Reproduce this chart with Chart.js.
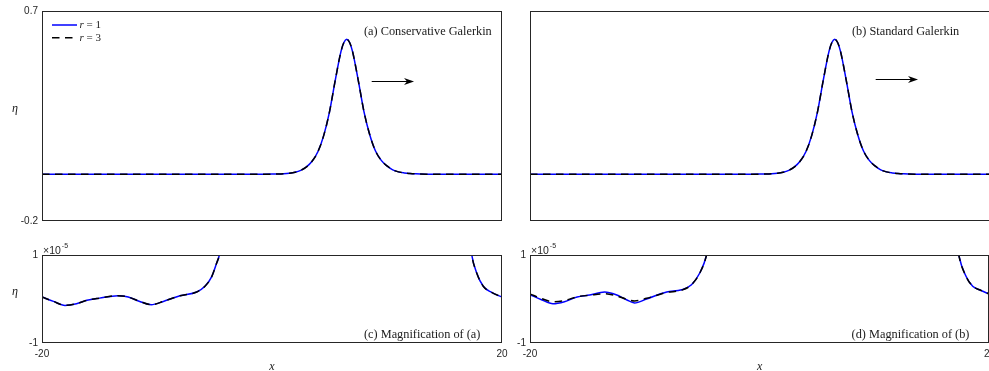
<!DOCTYPE html>
<html>
<head>
<meta charset="utf-8">
<script src="https://cdn.jsdelivr.net/npm/chart.js@4.4.1/dist/chart.umd.min.js"></script>
<style>
  html, body { margin: 0; padding: 0; background: #fff; overflow: hidden; }
  #fig { position: relative; width: 989px; height: 371px; overflow: hidden; background: #fff; }
  #fig canvas { position: absolute; }
</style>
</head>
<body>
<div id="fig">
  <canvas id="waveA" width="515" height="236" style="left:0;top:0"></canvas>
  <canvas id="waveB" width="500" height="236" style="left:500px;top:0"></canvas>
  <canvas id="magA" width="515" height="131" style="left:0;top:240px"></canvas>
  <canvas id="magB" width="500" height="131" style="left:500px;top:240px"></canvas>
</div>
<script>
// solitary wave profile eta(x), same for r = 1 and r = 3 at this scale
const waveX = [-20, -12, -6, -3, -1, 0, 0.5, 1.0, 1.5, 2.0, 2.5, 3.0, 3.5, 4.0, 4.5, 5.0, 5.5, 6.0, 6.25, 6.5,
               6.75, 7.0, 7.5, 8.0, 8.5, 9.0, 9.5, 10.0, 10.5, 11.0, 11.5, 12.0, 12.5, 13.5, 15, 17, 20];
const waveY = [0, 0, 0, 0, 0.0005, 0.0009, 0.0014, 0.0025, 0.0047, 0.0088, 0.017, 0.032, 0.057, 0.098, 0.167, 0.268, 0.403, 0.527, 0.565, 0.579,
               0.565, 0.527, 0.403, 0.268, 0.17, 0.1, 0.06, 0.036, 0.019, 0.0105, 0.0062, 0.0035, 0.002, 0.0008, 0.0002, 0, 0];

// magnified tails, in units of 1e-5 (conservative scheme, r = 1 and r = 3 overlap)
const magAX = [-20, -19.0, -18.0, -17.0, -16.1, -15.0, -13.4, -12.5, -11.5, -10.5, -9.45, -8.0, -6.55, -5.83, -5.24, -4.81, -4.58, -4.3, -3.8,
               16.8, 17.1, 17.37, 17.8, 18.37, 19.1, 20];
const magAY = [0.045, -0.055, -0.145, -0.107, -0.03, 0.02, 0.075, 0.045, -0.055, -0.13, -0.055, 0.075, 0.16, 0.29, 0.51, 0.82, 1.0, 1.5, 3,
               3, 1.6, 1.0, 0.59, 0.29, 0.15, 0.045];

// magnified tails, standard scheme
const magBX = [-20, -19.0, -18.0, -17.0, -15.9, -14.8, -13.5, -12.5, -11.6, -10.9, -9.85, -8.1, -6.8, -5.94, -5.22, -4.63, -4.3, -3.8,
               16.6, 17.0, 17.33, 17.97, 18.54, 19.13, 20];
const magB1Y = [0.098, -0.016, -0.107, -0.061, 0.045, 0.09, 0.16, 0.098, -0.016, -0.09, 0, 0.16, 0.21, 0.325, 0.59, 1.0, 1.5, 3,
                3, 1.6, 1.0, 0.51, 0.29, 0.21, 0.11];
const magB3Y = [0.114, 0.01, -0.061, -0.035, 0.05, 0.085, 0.12, 0.075, -0.005, -0.045, 0.015, 0.15, 0.2, 0.325, 0.59, 1.0, 1.5, 3,
                3, 1.6, 1.0, 0.51, 0.29, 0.21, 0.11];

const seriesNames = ['r = 1', 'r = 3'];
const panelNotes = ['(a) Conservative Galerkin', '(b) Standard Galerkin', '(c) Magnification of (a)', '(d) Magnification of (b)'];
const xTicks = [-20, 20];
const waveTicks = [-0.2, 0.7];
const magTicks = [-1, 1];
const magExponent = '-5';

const axisColor = '#262626';
const sansFont = '"Liberation Sans", Arial, sans-serif';
const serifFont = '"Liberation Serif", "Times New Roman", serif';

function toPoints(xs, ys) {
    return xs.map((x, i) => ({ x: x, y: ys[i] }));
}

function series(xs, ys1, ys3) {
    return [
        { label: seriesNames[0], data: toPoints(xs, ys1), borderColor: '#0000ff', borderWidth: 1.5,
          pointRadius: 0, fill: false, cubicInterpolationMode: 'monotone', clip: 0, order: 2 },
        { label: seriesNames[1], data: toPoints(xs, ys3), borderColor: '#000000', borderWidth: 1.5, borderDash: [7.5, 5.5],
          pointRadius: 0, fill: false, cubicInterpolationMode: 'monotone', clip: 0, order: 1 }
    ];
}

// box, notes, arrow, legend and axis symbols drawn on top of the curves
const panelDecor = {
    id: 'panelDecor',
    afterDraw(chart, args, o) {
        const ctx = chart.ctx;
        const a = chart.chartArea;
        const sx = chart.scales.x, sy = chart.scales.y;
        ctx.save();

        ctx.strokeStyle = axisColor;
        ctx.lineWidth = 1;
        ctx.setLineDash([]);
        ctx.strokeRect(Math.round(a.left) + 0.5, Math.round(a.top) + 0.5,
                       Math.round(a.right - a.left) - 1, Math.round(a.bottom - a.top) - 1);

        ctx.fillStyle = '#1a1a1a';
        ctx.font = '12.3px ' + serifFont;
        ctx.textAlign = 'left';
        ctx.textBaseline = 'middle';
        ctx.fillText(o.note.text, sx.getPixelForValue(o.note.x), sy.getPixelForValue(o.note.y));

        if (o.arrow) {
            const x0 = sx.getPixelForValue(o.arrow.x0);
            const x1 = sx.getPixelForValue(o.arrow.x1);
            const y = Math.round(sy.getPixelForValue(o.arrow.y)) + 0.5;
            ctx.strokeStyle = '#000';
            ctx.lineWidth = 1.2;
            ctx.beginPath();
            ctx.moveTo(x0, y);
            ctx.lineTo(x1 - 6, y);
            ctx.stroke();
            ctx.fillStyle = '#000';
            ctx.beginPath();
            ctx.moveTo(x1, y);
            ctx.lineTo(x1 - 10, y - 3.5);
            ctx.lineTo(x1 - 7, y);
            ctx.lineTo(x1 - 10, y + 3.5);
            ctx.closePath();
            ctx.fill();
        }

        if (o.legend) {
            chart.data.datasets.forEach((d, i) => {
                const y = a.top + 14 + i * 12.7;
                ctx.strokeStyle = d.borderColor;
                ctx.lineWidth = d.borderWidth;
                ctx.setLineDash(d.borderDash || []);
                ctx.beginPath();
                ctx.moveTo(a.left + 10, y);
                ctx.lineTo(a.left + 35, y);
                ctx.stroke();
                ctx.setLineDash([]);
                ctx.fillStyle = '#1a1a1a';
                ctx.textBaseline = 'middle';
                ctx.font = 'italic 11px ' + serifFont;
                const sym = d.label.slice(0, 1);
                ctx.fillText(sym, a.left + 37.5, y + 0.5);
                const w = ctx.measureText(sym).width;
                ctx.font = '11px ' + serifFont;
                ctx.fillText(d.label.slice(1), a.left + 37.5 + w, y + 0.5);
            });
        }

        ctx.fillStyle = '#1a1a1a';
        ctx.textAlign = 'center';
        ctx.textBaseline = 'alphabetic';
        if (o.eta) {
            ctx.font = 'italic 12px ' + serifFont;
            ctx.fillText('\u03b7', 15, (a.top + a.bottom) / 2 - 4);
        }
        if (o.xTitle) {
            ctx.font = 'italic 12px ' + serifFont;
            ctx.fillText('x', (a.left + a.right) / 2, a.bottom + 27);
        }
        if (o.exponent) {
            ctx.fillStyle = axisColor;
            ctx.textAlign = 'left';
            ctx.font = '10.5px ' + sansFont;
            ctx.fillText('\u00d710', a.left + 1, a.top - 1.5);
            const w = ctx.measureText('\u00d710').width;
            ctx.font = '7px ' + sansFont;
            ctx.fillText(magExponent, a.left + 2 + w, a.top - 7.5);
        }
        ctx.restore();
    }
};

function makePanel(id, p) {
    const tickFont = { family: sansFont, size: 10 };
    return new Chart(document.getElementById(id), {
        type: 'line',
        data: { datasets: p.datasets },
        options: {
            responsive: false,
            animation: false,
            devicePixelRatio: 1,
            events: [],
            layout: { padding: p.pad },
            plugins: {
                legend: { display: false },
                tooltip: { enabled: false },
                panelDecor: p.decor
            },
            scales: {
                x: {
                    type: 'linear', min: xTicks[0], max: xTicks[1],
                    grid: { display: false, drawTicks: false },
                    border: { display: false },
                    afterBuildTicks: s => { s.ticks = xTicks.map(v => ({ value: v })); },
                    ticks: { display: p.showX, padding: 5, color: axisColor, font: tickFont,
                             maxRotation: 0, autoSkip: false, callback: v => String(v) },
                    afterFit: s => { s.height = p.xH; }
                },
                y: {
                    type: 'linear', min: p.yTicks[0], max: p.yTicks[1],
                    grid: { display: false, drawTicks: false },
                    border: { display: false },
                    afterBuildTicks: s => { s.ticks = p.yTicks.map(v => ({ value: v })); },
                    ticks: { display: p.showY, padding: 4, color: axisColor, font: tickFont,
                             autoSkip: false, callback: v => String(v) },
                    afterFit: s => { s.width = p.yW; }
                }
            }
        },
        plugins: [panelDecor]
    });
}

makePanel('waveA', {
    datasets: series(waveX, waveY, waveY),
    pad: { left: 0, top: 11, right: 13, bottom: 0 }, xH: 15, yW: 42,
    yTicks: waveTicks, showX: false, showY: true,
    decor: { note: { text: panelNotes[0], x: 8, y: 0.609 }, arrow: { x0: 8.67, x1: 12.35, y: 0.401 },
             legend: true, eta: true, xTitle: false, exponent: false }
});

makePanel('waveB', {
    datasets: series(waveX, waveY, waveY),
    pad: { left: 0, top: 11, right: 10, bottom: 0 }, xH: 15, yW: 30,
    yTicks: waveTicks, showX: false, showY: false,
    decor: { note: { text: panelNotes[1], x: 8, y: 0.609 }, arrow: { x0: 10.06, x1: 13.74, y: 0.41 },
             legend: false, eta: false, xTitle: false, exponent: false }
});

makePanel('magA', {
    datasets: series(magAX, magAY, magAY),
    pad: { left: 0, top: 15, right: 13, bottom: 0 }, xH: 28, yW: 42,
    yTicks: magTicks, showX: true, showY: true,
    decor: { note: { text: panelNotes[2], x: 8, y: -0.82 }, arrow: null,
             legend: false, eta: true, xTitle: true, exponent: true }
});

makePanel('magB', {
    datasets: series(magBX, magB1Y, magB3Y),
    pad: { left: 0, top: 15, right: 10, bottom: 0 }, xH: 28, yW: 30,
    yTicks: magTicks, showX: true, showY: true,
    decor: { note: { text: panelNotes[3], x: 8, y: -0.82 }, arrow: null,
             legend: false, eta: false, xTitle: true, exponent: true }
});
</script>
</body>
</html>
